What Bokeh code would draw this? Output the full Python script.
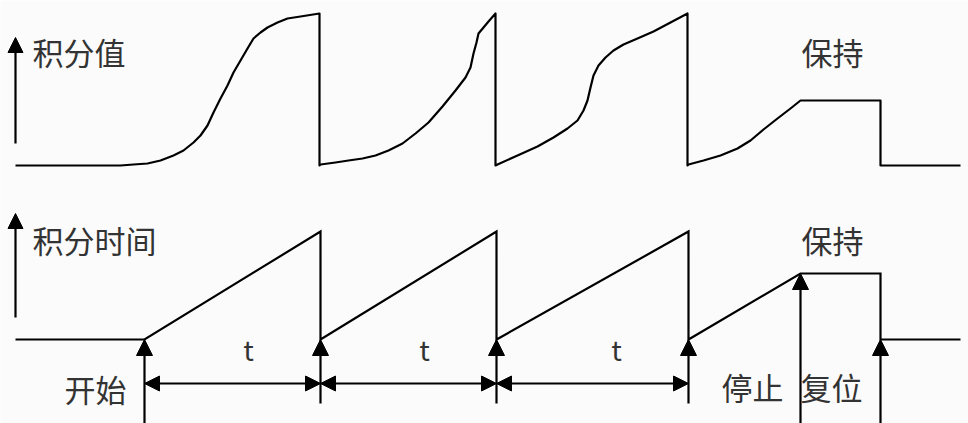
from bokeh.plotting import figure
from bokeh.models import Range1d, Arrow, NormalHead
from bokeh.core.properties import value
from bokeh.embed import file_html
from bokeh.resources import INLINE

# ---- data (diagram coordinates: x to the right, y downward) ----
# upper trace: integral value
top_x = [15, 100, 120, 133, 147, 160, 173, 183, 193, 200, 207, 213, 220, 227, 233, 240,
         247, 253, 260, 267, 277, 287, 300, 319, 319,
         320, 335, 348, 362, 375, 388, 402, 415, 428, 442, 455, 465, 470, 473, 476,
         478, 483, 488, 495, 495,
         497, 517, 537, 553, 567, 577, 583, 587, 590, 593, 598, 605, 613, 623, 637,
         653, 670, 687, 687,
         688, 703, 720, 737, 750, 763, 777, 790, 800, 880, 880, 960]
top_y = [165, 165, 165, 164, 163, 160, 155, 150, 142, 135, 125, 112, 98, 85, 72, 60,
         48, 38, 32, 27, 22, 18, 16, 13, 165,
         164, 162, 160, 158, 155, 150, 143, 133, 122, 106, 90, 77, 67, 53, 42,
         33, 27, 21, 13, 165,
         164, 155, 146, 137, 128, 120, 110, 100, 87, 75, 65, 57, 50, 44, 38,
         31, 22, 13, 165,
         164, 160, 155, 148, 140, 129, 118, 108, 100, 100, 165, 165]

# lower trace: integration time
bot_x = [15, 144, 320, 320, 496, 496, 688, 688, 800, 880, 880, 960]
bot_y = [339, 339, 231, 339, 231, 339, 231, 339, 273, 273, 339, 339]

# trigger arrows (x, bottom, tip)
trig_x = [144, 320, 496, 688, 800, 880]
trig_bottom = [430, 403, 403, 403, 430, 430]
trig_tip = [339, 339, 339, 339, 273, 339]

# interval arrows
span_start = [144, 320, 496]
span_end = [320, 496, 688]
span_y = 383
t_labels = ["t", "t", "t"]
t_x = [248, 424, 616]
t_y = [348, 348, 348]

# axis arrows
axis_x = [15, 15]
axis_bottom = [143, 317]
axis_tip = [37, 213]

# labels
lab_text = ["积分值", "保持", "积分时间", "保持", "开始", "停止", "复位"]
lab_x = [32, 801, 32, 801, 64, 721, 800]
lab_y = [51, 51, 239, 239, 388, 386, 386]

BG = "#fbfbfb"
p = figure(width=968, height=423, x_range=Range1d(0, 968), y_range=Range1d(423, 0),
           x_axis_type=None, y_axis_type=None, toolbar_location=None,
           output_backend="svg", min_border=0, background_fill_color=BG,
           border_fill_color=BG, outline_line_color=None)
p.min_border_left = p.min_border_right = p.min_border_top = p.min_border_bottom = 0

p.line(top_x, top_y, line_color="black", line_width=2.2, line_join="round")
p.line(bot_x, bot_y, line_color="black", line_width=2.2, line_join="miter")

def head(sz):
    return NormalHead(size=sz, fill_color="black", line_color="black", line_width=1)

for x, b, t in zip(axis_x, axis_bottom, axis_tip):
    p.add_layout(Arrow(end=head(15), x_start=x, y_start=b, x_end=x, y_end=t,
                       line_color="black", line_width=2.2))

for x, b, t in zip(trig_x, trig_bottom, trig_tip):
    p.add_layout(Arrow(end=head(16), x_start=x, y_start=b, x_end=x, y_end=t,
                       line_color="black", line_width=2.2))

for s, e in zip(span_start, span_end):
    p.add_layout(Arrow(start=head(15), end=head(15), x_start=s, y_start=span_y,
                       x_end=e, y_end=span_y, line_color="black", line_width=2.2))

p.text(x=lab_x, y=lab_y, text=lab_text, text_font=value("Noto Sans CJK SC"),
       text_font_size="31px", text_color="#333333", text_align="left",
       text_baseline="middle")
p.text(x=t_x, y=t_y, text=t_labels, text_font=value("Noto Sans CJK SC"),
       text_font_size="28px", text_color="#333333", text_align="center",
       text_baseline="middle")

open("out.html", "w").write(file_html(p, INLINE))
